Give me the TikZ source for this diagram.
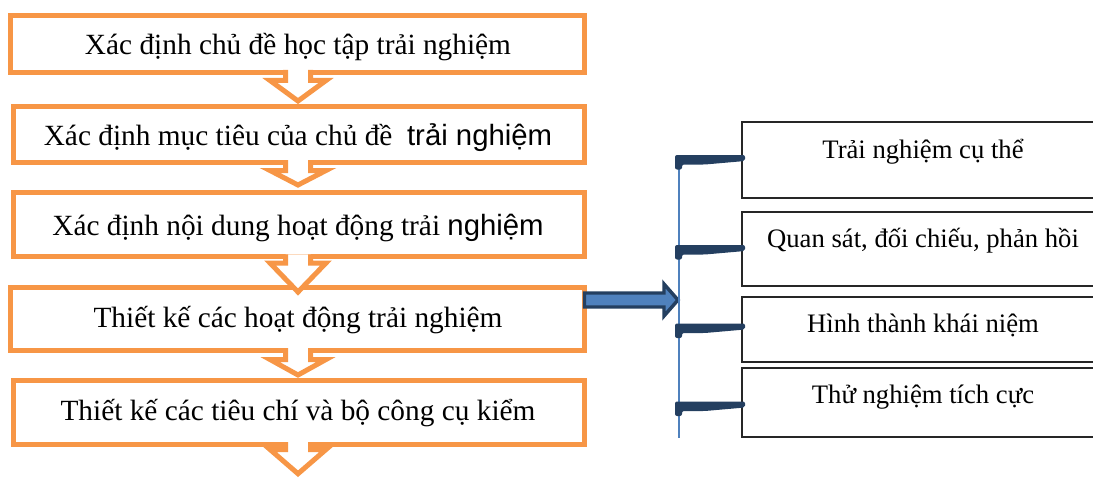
\documentclass[tikz,border=0pt]{standalone}
\usepackage{fontspec}
\setmainfont{Liberation Serif}
\newfontfamily\arialfont{Liberation Sans}
\usetikzlibrary{calc}
\definecolor{orangeacc}{HTML}{F79646}
\definecolor{navyc}{HTML}{243F60}
\definecolor{blueacc}{HTML}{4F81BD}
\definecolor{boxline}{HTML}{262626}

% hollow block arrow between two stacked boxes:
% #1 upper node, #2 lower node, #3 head offset below #1.south, #4 tip offset from #2.north
\newcommand\blockdown[4]{%
  \coordinate (s0) at (#1.south -| ax);
  \coordinate (s) at ($(s0)+(0,-2.5)$);
  \coordinate (h) at ($(s0)+(0,#3)$);
  \coordinate (t0) at (#2.north -| ax);
  \coordinate (t) at ($(t0)+(0,#4)$);
  \fill[white] ($(s)+(-12.5,0)$) -- ($(h)+(-12.5,0)$) -- ($(h)+(-28,0)$) -- (t)
     -- ($(h)+(28,0)$) -- ($(h)+(12.5,0)$) -- ($(s)+(12.5,0)$) -- cycle;
  \draw[blockarrow] ($(s)+(-12.5,0)$) -- ($(h)+(-12.5,0)$) -- ($(h)+(-28,0)$) -- (t)
     -- ($(h)+(28,0)$) -- ($(h)+(12.5,0)$) -- ($(s)+(12.5,0)$);
}

% tapered elbow bar from the vertical spine to a stage box:
% #1 stage node, #2 vertical offset of the bar's top edge
\newcommand\connbar[2]{%
  \coordinate (e) at ($(#1.west)+(3,#2)$);
  \fill[navyc, rounded corners=1.5pt] ($(e)+(0,-0.5)$) -- ($(e)+(-70,-0.5)$) -- ($(e)+(-70,14)$)
     -- ($(e)+(-63,14)$) -- ($(e)+(-63,9)$) -- ($(e)+(-40,9)$) -- ($(e)+(0,5.5)$) -- cycle;
}

\begin{document}
\begin{tikzpicture}[x=0.75pt,y=-0.75pt,
  lbox/.style={draw=orangeacc, line width=3.75pt, rectangle, inner sep=0pt, outer sep=0pt},
  rbox/.style={draw=boxline, line width=1.1pt, rectangle, inner sep=0pt, outer sep=0pt,
               minimum width=368*0.75pt},
  ltext/.style={anchor=base, inner sep=0pt, font=\fontsize{22}{26}\selectfont},
  rtext/.style={anchor=base, inner sep=0pt, font=\fontsize{20}{24}\selectfont},
  blockarrow/.style={draw=orangeacc, line width=3.75pt, miter limit=10},
]
\useasboundingbox (0,0) rectangle (1093,478);
\clip (0,0) rectangle (1093,478);

\coordinate (ax) at (298,0);

% process steps
\node[lbox, minimum width=574*0.75pt, minimum height=57.3*0.75pt] (b1) at (297.5,43.85) {};
\node[lbox, minimum width=571*0.75pt, minimum height=55.7*0.75pt] (b2) at (299,134.65) {};
\node[lbox, minimum width=571*0.75pt, minimum height=64.3*0.75pt] (b3) at (299,224.65) {};
\node[lbox, minimum width=574*0.75pt, minimum height=63*0.75pt]   (b4) at (297.5,319) {};
\node[lbox, minimum width=571*0.75pt, minimum height=64*0.75pt]   (b5) at (299,412.5) {};
\node[inner sep=0pt, minimum size=0pt] (flowend) at (298,474) {};

\node[ltext] (t1) at (298,55)  {Xác định chủ đề học tập trải nghiệm};
\node[ltext] (t2) at (298,146) {Xác định mục tiêu của chủ đề\ \ {\arialfont trải nghiệm}};
\node[ltext] (t3) at (298,235) {Xác định nội dung hoạt động trải {\arialfont nghiệm}};
\node[ltext] (t4) at (298,327) {Thiết kế các hoạt động trải nghiệm};
\node[ltext] (t5) at (298,420) {Thiết kế các tiêu chí và bộ công cụ kiểm};

% arrows between steps
\blockdown{b1}{b2}{8}{-5.8}
\blockdown{b2}{b3}{8}{-7.5}
\blockdown{b3}{b4}{6.2}{4.5}
\blockdown{b4}{b5}{9}{-5.5}
\blockdown{b5}{flowend}{5}{0}

% learning cycle stages
\node[rbox, minimum height=76*0.75pt] (r1) at (926,160) {};
\node[rbox, minimum height=74*0.75pt] (r2) at (926,249) {};
\node[rbox, minimum height=65*0.75pt] (r3) at (926,329.5) {};
\node[rbox, minimum height=69*0.75pt] (r4) at (926,402.5) {};

\node[rtext] (s1) at (923,158) {Trải nghiệm cụ thể};
\node[rtext] (s2) at (923,247) {Quan sát, đối chiếu, phản hồi};
\node[rtext] (s3) at (923,332) {Hình thành khái niệm};
\node[rtext] (s4) at (923,403) {Thử nghiệm tích cực};

% spine
\coordinate (vtop) at (679,165);
\coordinate (vbot) at (679,438);

% thick block arrow from the design step to the spine
\coordinate (ra) at ($(b4.east)+(0,-19)$);
\coordinate (rt) at (vtop |- ra);
\draw[navyc, line width=2.6pt, fill=blueacc, miter limit=10]
  ($(ra)+(0,-7)$) -- ($(rt)+(-15,-7)$) -- ($(rt)+(-15,-16)$) -- ($(rt)+(-1,0)$)
  -- ($(rt)+(-15,16)$) -- ($(rt)+(-15,7)$) -- ($(ra)+(0,7)$) -- cycle;

\draw[blueacc, line width=1.1pt] (vtop) -- (vbot);

\connbar{r1}{-4.5}
\connbar{r2}{-3.5}
\connbar{r3}{-5.5}
\connbar{r4}{-0.5}
\end{tikzpicture}
\end{document}
